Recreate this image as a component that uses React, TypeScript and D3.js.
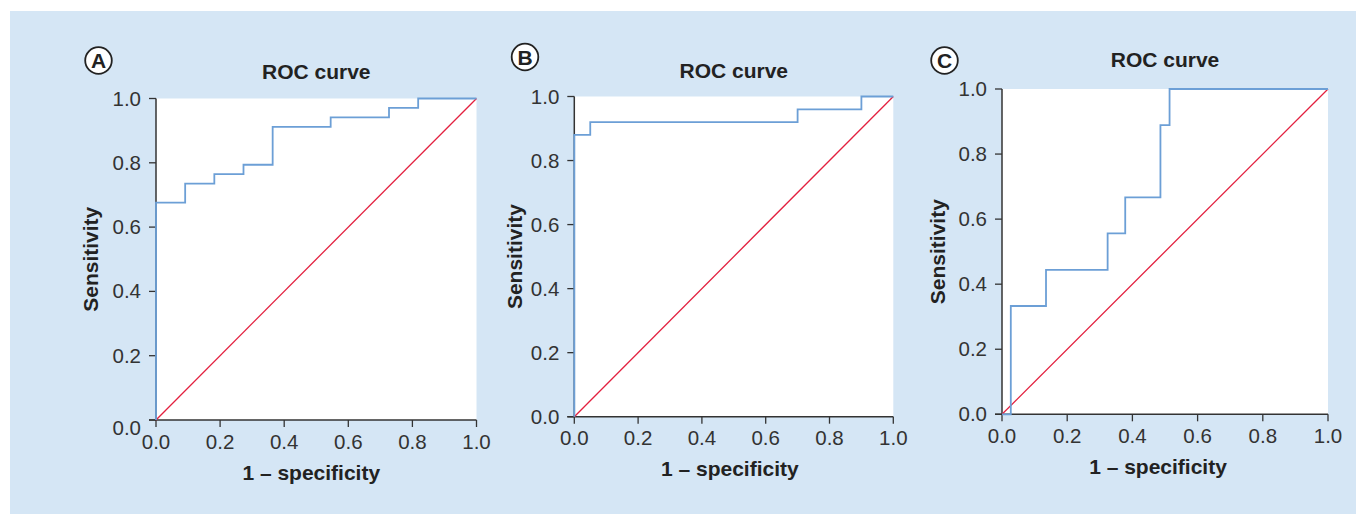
import * as d3 from "d3";
import { useEffect, useRef } from "react";

// ROC points (1 - specificity, sensitivity)
const fprA = [0, 0, 0.091, 0.182, 0.273, 0.364, 0.545, 0.727, 0.818, 1];
const tprA = [0, 0.676, 0.735, 0.765, 0.794, 0.912, 0.941, 0.971, 1, 1];

const fprB = [0, 0, 0.05, 0.7, 0.9, 1];
const tprB = [0, 0.88, 0.92, 0.96, 1, 1];

const fprC = [0, 0.027, 0.135, 0.324, 0.378, 0.486, 0.514, 1];
const tprC = [0, 0.333, 0.444, 0.556, 0.667, 0.889, 1, 1];

const ticks = [0, 0.2, 0.4, 0.6, 0.8, 1.0];
const panelLetters = ["A", "B", "C"];
const title = "ROC curve";
const xTitle = "1 – specificity";
const yTitle = "Sensitivity";

// layout of each panel on the page
const panels = [
  { fpr: fprA, tpr: tprA, x0: 156, x1: 476.5, top: 98.5, bottom: 420, titleY: 79, badge: [98.5, 60.5], yLabX: 98, xLabDx: -5, zeroDy: 8 },
  { fpr: fprB, tpr: tprB, x0: 574.3, x1: 893.3, top: 96.5, bottom: 416.7, titleY: 77.7, badge: [525, 57], yLabX: 522, xLabDx: -4, zeroDy: 0 },
  { fpr: fprC, tpr: tprC, x0: 1002, x1: 1328, top: 89, bottom: 414.3, titleY: 67.3, badge: [944.5, 60.5], yLabX: 945, xLabDx: -7, zeroDy: 0 },
];

const font = "'Liberation Sans', Arial, Helvetica, sans-serif";
const ink = "#333";

export default function App() {
  const ref = useRef(null);

  useEffect(() => {
    const svg = d3.select(ref.current);
    svg.selectAll("*").remove();

    svg.append("rect")
      .attr("x", 10).attr("y", 11)
      .attr("width", 1356 - 10).attr("height", 514 - 11)
      .attr("fill", "#d5e6f5");

    panels.forEach((p, i) => {
      const x = d3.scaleLinear().domain([0, 1]).range([p.x0, p.x1]);
      const y = d3.scaleLinear().domain([0, 1]).range([p.bottom, p.top]);
      const g = svg.append("g").style("font-family", font);

      g.append("rect")
        .attr("x", x(0)).attr("y", y(1))
        .attr("width", x(1) - x(0)).attr("height", y(0) - y(1))
        .attr("fill", "#fff");

      // axes
      g.append("line")
        .attr("x1", x(0)).attr("x2", x(0))
        .attr("y1", y(0)).attr("y2", y(1))
        .attr("stroke", ink).attr("stroke-width", 1.5);
      g.append("line")
        .attr("x1", x(0) - 7).attr("x2", x(1))
        .attr("y1", y(0)).attr("y2", y(0))
        .attr("stroke", ink).attr("stroke-width", 1.5);

      ticks.forEach((t) => {
        g.append("line")
          .attr("x1", x(0) - 7).attr("x2", x(0))
          .attr("y1", y(t)).attr("y2", y(t))
          .attr("stroke", ink).attr("stroke-width", 1.3);
        g.append("text")
          .attr("x", x(0) - 15)
          .attr("y", y(t) + 7 + (t === 0 ? p.zeroDy : 0))
          .attr("text-anchor", "end")
          .attr("font-size", 20.5)
          .attr("fill", ink)
          .text(t.toFixed(1));

        g.append("line")
          .attr("x1", x(t)).attr("x2", x(t))
          .attr("y1", y(0)).attr("y2", y(0) + 7)
          .attr("stroke", ink).attr("stroke-width", 1.3);
        g.append("text")
          .attr("x", x(t))
          .attr("y", y(0) + 28.5)
          .attr("text-anchor", "middle")
          .attr("font-size", 20.5)
          .attr("fill", ink)
          .text(t.toFixed(1));
      });

      // reference diagonal
      g.append("line")
        .attr("x1", x(0)).attr("y1", y(0))
        .attr("x2", x(1)).attr("y2", y(1))
        .attr("stroke", "#e3203f").attr("stroke-width", 1.3);

      const pts = p.fpr.map((f, k) => [f, p.tpr[k]]);
      const line = d3.line()
        .x((d) => x(d[0]))
        .y((d) => y(d[1]))
        .curve(d3.curveStepAfter);
      g.append("path")
        .attr("d", line(pts))
        .attr("fill", "none")
        .attr("stroke", "#6c9fd6")
        .attr("stroke-width", 1.8);

      // titles
      g.append("text")
        .attr("x", (x(0) + x(1)) / 2)
        .attr("y", p.titleY)
        .attr("text-anchor", "middle")
        .attr("font-size", 21)
        .attr("font-weight", "bold")
        .attr("fill", "#222")
        .text(title);
      g.append("text")
        .attr("x", (x(0) + x(1)) / 2 + p.xLabDx)
        .attr("y", y(0) + 59.5)
        .attr("text-anchor", "middle")
        .attr("font-size", 21)
        .attr("font-weight", "bold")
        .attr("fill", "#222")
        .text(xTitle);
      g.append("text")
        .attr("transform", `translate(${p.yLabX},${(y(0) + y(1)) / 2}) rotate(-90)`)
        .attr("text-anchor", "middle")
        .attr("font-size", 21)
        .attr("font-weight", "bold")
        .attr("fill", "#222")
        .text(yTitle);

      // panel badge
      g.append("circle")
        .attr("cx", p.badge[0]).attr("cy", p.badge[1])
        .attr("r", 13.3)
        .attr("fill", "#fff")
        .attr("stroke", "#222").attr("stroke-width", 1.8);
      g.append("text")
        .attr("x", p.badge[0]).attr("y", p.badge[1] + 7.5)
        .attr("text-anchor", "middle")
        .attr("font-size", 21)
        .attr("font-weight", "bold")
        .attr("fill", "#222")
        .text(panelLetters[i]);
    });
  }, []);

  return (
    <svg
      ref={ref}
      width={1356}
      height={514}
      style={{ position: "absolute", left: 0, top: 0, background: "#fff" }}
    />
  );
}
